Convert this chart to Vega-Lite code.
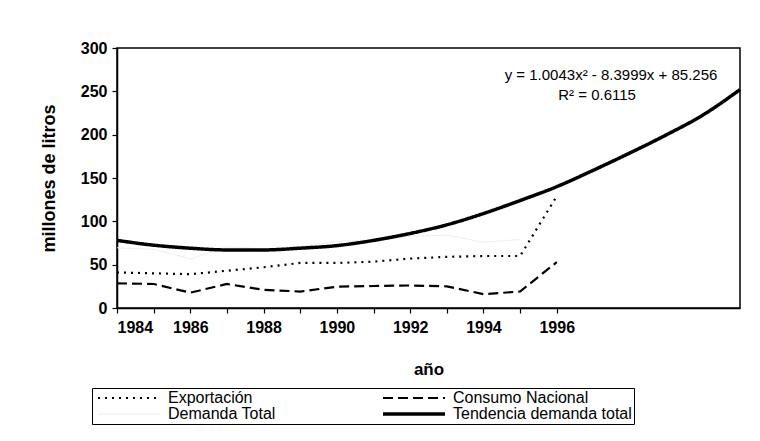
{
  "$schema": "https://vega.github.io/schema/vega-lite/v6.json",
  "width": 623,
  "height": 260,
  "autosize": {"type": "none"},
  "padding": {"left": 117, "top": 48, "right": 20, "bottom": 133},
  "background": "white",
  "config": {
    "font": "Liberation Sans",
    "view": {"stroke": "black", "strokeWidth": 1.5},
    "axis": {"domainColor": "black", "tickColor": "black", "labelColor": "black", "titleColor": "black", "grid": false, "domainWidth": 1.5, "tickWidth": 1.2}
  },
  "datasets": {
    "series": [
      {"anio": 1984, "serie": "Exportación", "valor": 41},
      {"anio": 1985, "serie": "Exportación", "valor": 40},
      {"anio": 1986, "serie": "Exportación", "valor": 39},
      {"anio": 1987, "serie": "Exportación", "valor": 43},
      {"anio": 1988, "serie": "Exportación", "valor": 47},
      {"anio": 1989, "serie": "Exportación", "valor": 52},
      {"anio": 1990, "serie": "Exportación", "valor": 52},
      {"anio": 1991, "serie": "Exportación", "valor": 53.5},
      {"anio": 1992, "serie": "Exportación", "valor": 57},
      {"anio": 1993, "serie": "Exportación", "valor": 59},
      {"anio": 1994, "serie": "Exportación", "valor": 60},
      {"anio": 1995, "serie": "Exportación", "valor": 60},
      {"anio": 1996, "serie": "Exportación", "valor": 129},
      {"anio": 1984, "serie": "Consumo Nacional", "valor": 28.5},
      {"anio": 1985, "serie": "Consumo Nacional", "valor": 27.7},
      {"anio": 1986, "serie": "Consumo Nacional", "valor": 17.7},
      {"anio": 1987, "serie": "Consumo Nacional", "valor": 27.7},
      {"anio": 1988, "serie": "Consumo Nacional", "valor": 21},
      {"anio": 1989, "serie": "Consumo Nacional", "valor": 19},
      {"anio": 1990, "serie": "Consumo Nacional", "valor": 24.6},
      {"anio": 1991, "serie": "Consumo Nacional", "valor": 25.4},
      {"anio": 1992, "serie": "Consumo Nacional", "valor": 26},
      {"anio": 1993, "serie": "Consumo Nacional", "valor": 25},
      {"anio": 1994, "serie": "Consumo Nacional", "valor": 16},
      {"anio": 1995, "serie": "Consumo Nacional", "valor": 19},
      {"anio": 1996, "serie": "Consumo Nacional", "valor": 53},
      {"anio": 1984, "serie": "Demanda Total", "valor": 69.5},
      {"anio": 1985, "serie": "Demanda Total", "valor": 67.7},
      {"anio": 1986, "serie": "Demanda Total", "valor": 56.7},
      {"anio": 1987, "serie": "Demanda Total", "valor": 70.7},
      {"anio": 1988, "serie": "Demanda Total", "valor": 68},
      {"anio": 1989, "serie": "Demanda Total", "valor": 71},
      {"anio": 1990, "serie": "Demanda Total", "valor": 76.6},
      {"anio": 1991, "serie": "Demanda Total", "valor": 78.9},
      {"anio": 1992, "serie": "Demanda Total", "valor": 83},
      {"anio": 1993, "serie": "Demanda Total", "valor": 84},
      {"anio": 1994, "serie": "Demanda Total", "valor": 76},
      {"anio": 1995, "serie": "Demanda Total", "valor": 79},
      {"anio": 1984, "serie": "Tendencia demanda total", "valor": 78},
      {"anio": 1985, "serie": "Tendencia demanda total", "valor": 72.5},
      {"anio": 1986, "serie": "Tendencia demanda total", "valor": 69},
      {"anio": 1987, "serie": "Tendencia demanda total", "valor": 67},
      {"anio": 1988, "serie": "Tendencia demanda total", "valor": 67},
      {"anio": 1989, "serie": "Tendencia demanda total", "valor": 69},
      {"anio": 1990, "serie": "Tendencia demanda total", "valor": 72},
      {"anio": 1991, "serie": "Tendencia demanda total", "valor": 78},
      {"anio": 1992, "serie": "Tendencia demanda total", "valor": 86},
      {"anio": 1993, "serie": "Tendencia demanda total", "valor": 96},
      {"anio": 1994, "serie": "Tendencia demanda total", "valor": 109},
      {"anio": 1995, "serie": "Tendencia demanda total", "valor": 124},
      {"anio": 1996, "serie": "Tendencia demanda total", "valor": 140},
      {"anio": 1997, "serie": "Tendencia demanda total", "valor": 159},
      {"anio": 1998, "serie": "Tendencia demanda total", "valor": 179},
      {"anio": 1999, "serie": "Tendencia demanda total", "valor": 200},
      {"anio": 2000, "serie": "Tendencia demanda total", "valor": 223},
      {"anio": 2001, "serie": "Tendencia demanda total", "valor": 252}
    ],
    "labels": [
      {"anio": 1997.48, "valor": 269, "texto": "y = 1.0043x² - 8.3999x + 85.256"},
      {"anio": 1997.1, "valor": 246, "texto": "R² = 0.6115"}
    ]
  },
  "encoding": {
    "x": {
      "field": "anio", "type": "quantitative",
      "scale": {"domain": [1984, 2001], "nice": false, "zero": false},
      "axis": {
        "title": "año", "values": [1984, 1985, 1986, 1987, 1988, 1989, 1990, 1991, 1992, 1993, 1994, 1995, 1996],
        "format": "d", "labelExpr": "datum.value % 2 === 0 ? datum.label : ''",
        "tickSize": 5, "labelPadding": 6, "labelFontSize": 16, "labelFontWeight": "bold",
        "titleFontSize": 17, "titleFontWeight": "bold", "titlePadding": 26
      }
    },
    "y": {
      "field": "valor", "type": "quantitative",
      "scale": {"domain": [0, 300], "nice": false},
      "axis": {
        "title": "millones de litros", "values": [0, 50, 100, 150, 200, 250, 300],
        "tickSize": 5, "labelPadding": 5, "labelFontSize": 16, "labelFontWeight": "bold",
        "titleFontSize": 18, "titleFontWeight": "bold", "titlePadding": 22
      }
    }
  },
  "layer": [
    {
      "data": {"name": "series"},
      "transform": [{"filter": "datum.serie !== 'Tendencia demanda total'"}],
      "mark": {"type": "line", "interpolate": "linear"},
      "encoding": {
        "color": {"field": "serie", "type": "nominal", "sort": null,
          "scale": {"domain": ["Exportación", "Demanda Total", "Consumo Nacional", "Tendencia demanda total"], "range": ["black", "#ededed", "black", "black"]},
          "legend": {"title": null, "orient": "none", "legendX": -25, "legendY": 340, "columns": 2, "columnPadding": 100, "rowPadding": -2,
            "symbolType": "M-1,0H14.5", "symbolSize": 64, "labelOffset": 58, "labelFontSize": 16, "labelColor": "black", "labelLimit": 400,
            "strokeColor": "black", "padding": 2}},
        "strokeDash": {"field": "serie", "type": "nominal", "sort": null,
          "scale": {"domain": ["Exportación", "Demanda Total", "Consumo Nacional", "Tendencia demanda total"], "range": [[2, 5], [1, 0], [10, 5], [1, 0]]},
          "legend": {"title": null}},
        "strokeWidth": {"field": "serie", "type": "nominal", "sort": null,
          "scale": {"type": "ordinal", "domain": ["Exportación", "Demanda Total", "Consumo Nacional", "Tendencia demanda total"], "range": [2.2, 1, 2.2, 3.5]},
          "legend": {"title": null}}
      }
    },
    {
      "data": {"name": "series"},
      "transform": [{"filter": "datum.serie === 'Tendencia demanda total'"}],
      "mark": {"type": "line", "interpolate": "monotone"},
      "encoding": {
        "color": {"field": "serie", "type": "nominal", "sort": null,
          "scale": {"domain": ["Exportación", "Demanda Total", "Consumo Nacional", "Tendencia demanda total"], "range": ["black", "#ededed", "black", "black"]},
          "legend": {"title": null, "orient": "none", "legendX": -25, "legendY": 340, "columns": 2, "columnPadding": 100, "rowPadding": -2,
            "symbolType": "M-1,0H14.5", "symbolSize": 64, "labelOffset": 58, "labelFontSize": 16, "labelColor": "black", "labelLimit": 400,
            "strokeColor": "black", "padding": 2}},
        "strokeDash": {"field": "serie", "type": "nominal", "sort": null,
          "scale": {"domain": ["Exportación", "Demanda Total", "Consumo Nacional", "Tendencia demanda total"], "range": [[2, 5], [1, 0], [10, 5], [1, 0]]},
          "legend": {"title": null}},
        "strokeWidth": {"field": "serie", "type": "nominal", "sort": null,
          "scale": {"type": "ordinal", "domain": ["Exportación", "Demanda Total", "Consumo Nacional", "Tendencia demanda total"], "range": [2.2, 1, 2.2, 3.5]},
          "legend": {"title": null}}
      }
    },
    {
      "data": {"name": "labels"},
      "mark": {"type": "text", "fontSize": 15, "align": "center", "baseline": "middle", "color": "black"},
      "encoding": {"text": {"field": "texto"}}
    }
  ]
}
